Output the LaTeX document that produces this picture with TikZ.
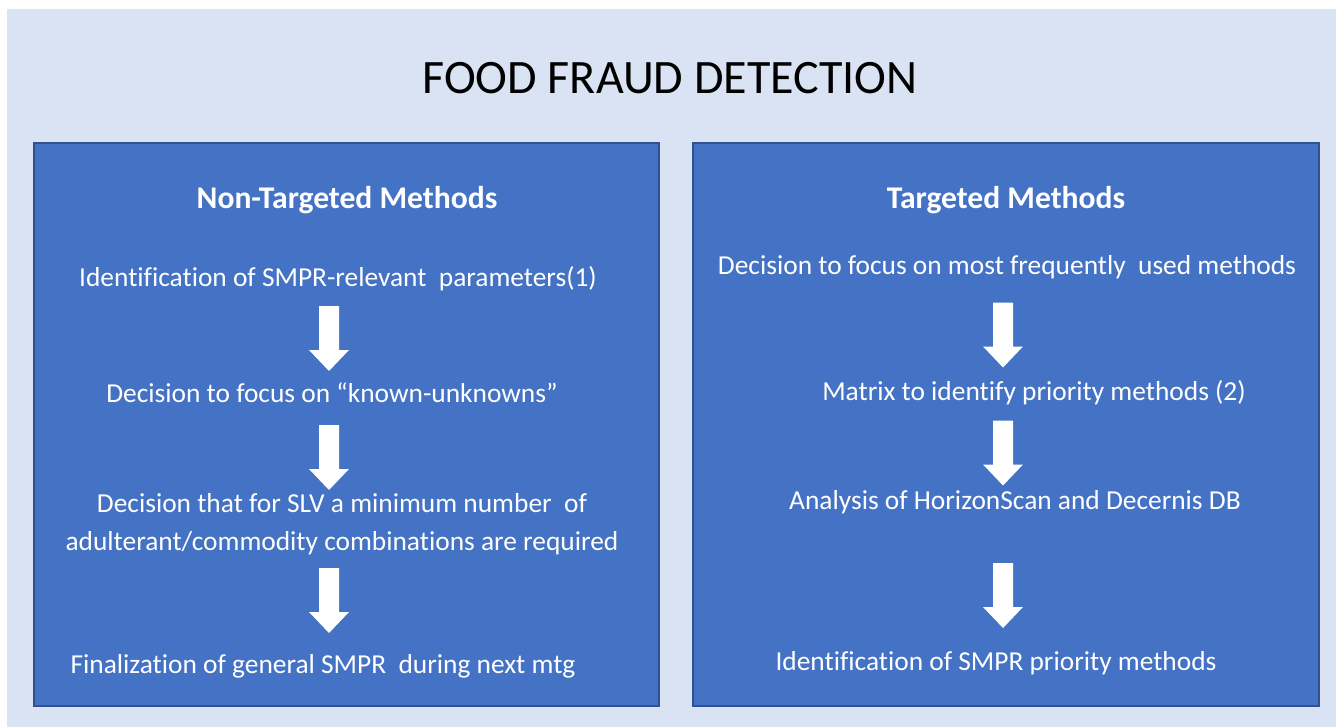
\documentclass[tikz,border=0pt]{standalone}
\usepackage{fontspec}
\setmainfont[Ligatures=CommonOff]{Carlito}
\definecolor{pagebg}{HTML}{DAE3F3}
\definecolor{panelblue}{HTML}{4472C4}
\definecolor{panelline}{HTML}{2F528F}
\tikzset{
	pics/downarrow/.style={code={
		\fill[white] (-10,-32.5) -- (10,-32.5) -- (10,11.5) -- (20,11.5) -- (0,32.5) -- (-20,11.5) -- (-10,11.5) -- cycle;
	}}
}

\begin{document}
\begin{tikzpicture}[x=0.5pt,y=-0.5pt,
			panel/.style={draw=panelline,fill=panelblue,line width=0.6pt},
			heading/.style={text=white,inner sep=0,font=\fontsize{15.8}{19}\selectfont\bfseries},
			item/.style={text=white,inner sep=0,align=center,font=\fontsize{13.7}{19}\selectfont}
		]
		\useasboundingbox (0,0) rectangle (1336,727);
		\fill[pagebg] (7,9) rectangle (1336,727);
		\node[inner sep=0,font=\fontsize{24}{28}\selectfont] (T) at (670,78) {FOOD FRAUD DETECTION};
		% left panel
		\draw[panel] (34,143) rectangle (659,706);
		\node[heading] (NT)  at (347,200) {Non-Targeted Methods};
		\node[item]    (NT1) at (338,279) {Identification of SMPR-relevant\ \ parameters(1)};
		\node[item]    (NT2) at (332,393) {Decision to focus on “known-unknowns”};
		\node[item]    (NT3) at (342,524) {Decision that for SLV a minimum number\ \ of\\adulterant/commodity combinations are required};
		\node[item]    (NT4) at (323,666) {Finalization of general SMPR\ \ during next mtg};
		\pic (NA1) at (329,338.5) {downarrow};
		\pic (NA2) at (329,457.5) {downarrow};
		\pic (NA3) at (329,600.5) {downarrow};
		% right panel
		\draw[panel] (693,143) rectangle (1319,706);
		\node[heading] (TM)  at (1006,200) {Targeted Methods};
		\node[item]    (TM1) at (1007,267) {Decision to focus on most frequently\ \ used methods};
		\node[item]    (TM2) at (1034,393) {Matrix to identify priority methods (2)};
		\node[item]    (TM3) at (1015,502) {Analysis of HorizonScan and Decernis DB};
		\node[item]    (TM4) at (996,663) {Identification of SMPR priority methods};
		\pic (TA1) at (1003,335) {downarrow};
		\pic (TA2) at (1003,453) {downarrow};
		\pic (TA3) at (1003,595.5) {downarrow};
	\end{tikzpicture}
\end{document}
